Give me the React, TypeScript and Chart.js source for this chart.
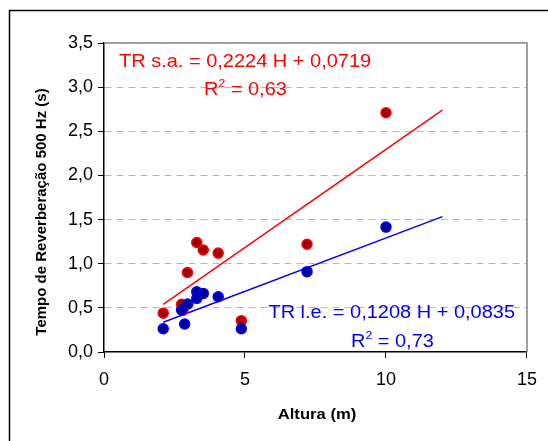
import React, { useEffect, useRef } from "react";
import { Chart, registerables } from "chart.js";

Chart.register(...registerables);

// Red series: TR s.a.
const redX = [2.1, 2.75, 2.8, 2.96, 3.29, 3.52, 4.05, 4.87, 7.2, 10.0];
const redY = [0.44, 0.54, 0.47, 0.9, 1.24, 1.155, 1.12, 0.355, 1.22, 2.71];
// Blue series: TR l.e.
const blueX = [2.1, 2.86, 2.75, 2.97, 3.29, 3.29, 3.52, 4.05, 4.87, 7.2, 10.0];
const blueY = [0.264, 0.317, 0.476, 0.544, 0.683, 0.608, 0.664, 0.626, 0.264, 0.91, 1.415];

// Trend lines
const redSlope = 0.2224;
const redIntercept = 0.0719;
const blueSlope = 0.1208;
const blueIntercept = 0.0835;
const trendX = [2.1, 12];

const redEq = "TR s.a. = 0,2224 H + 0,0719";
const redR2 = "0,63";
const blueEq = "TR l.e. = 0,1208 H + 0,0835";
const blueR2 = "0,73";
const xTitle = "Altura (m)";
const yTitle = "Tempo de Reverberação 500 Hz (s)";

const FONT = "'Liberation Sans', Arial, sans-serif";
const SX = 1.11;

const decorPlugin = {
  id: "decor",
  beforeDraw(chart: any) {
    const ctx = chart.ctx;
    ctx.save();
    ctx.fillStyle = "#ffffff";
    ctx.fillRect(0, 0, chart.width, chart.height);
    ctx.strokeStyle = "#000000";
    ctx.lineWidth = 1.5;
    ctx.beginPath();
    ctx.moveTo(9.5, chart.height + 5);
    ctx.lineTo(9.5, 10.5);
    ctx.lineTo(chart.width + 5, 10.5);
    ctx.stroke();
    ctx.restore();
  },
  afterDraw(chart: any) {
    const ctx = chart.ctx;
    const a = chart.chartArea;
    ctx.save();
    ctx.strokeStyle = "#808080";
    ctx.lineWidth = 1.5;
    ctx.beginPath();
    ctx.moveTo(a.left, a.top);
    ctx.lineTo(a.right, a.top);
    ctx.lineTo(a.right, a.bottom);
    ctx.stroke();

    const stretched = (text: string, x: number, y: number, font: string, align: CanvasTextAlign) => {
      ctx.save();
      ctx.translate(x, y);
      ctx.scale(SX, 1);
      ctx.font = font;
      ctx.textAlign = align;
      ctx.fillText(text, 0, 0);
      ctx.restore();
    };

    // axis titles
    ctx.fillStyle = "#000000";
    ctx.textBaseline = "middle";
    stretched(xTitle, 317, 415, `bold 15px ${FONT}`, "center");
    ctx.save();
    ctx.translate(42, 212);
    ctx.rotate(-Math.PI / 2);
    ctx.font = `bold 15px ${FONT}`;
    ctx.textAlign = "center";
    ctx.fillText(yTitle, 0, 0);
    ctx.restore();

    // equations
    ctx.textBaseline = "alphabetic";
    const drawR2 = (x: number, y: number, val: string) => {
      ctx.save();
      ctx.translate(x, y);
      ctx.scale(SX, 1);
      ctx.textAlign = "left";
      ctx.font = `18px ${FONT}`;
      ctx.fillText("R", 0, 0);
      const w = ctx.measureText("R").width;
      ctx.font = `11px ${FONT}`;
      ctx.fillText("2", w, -8);
      const w2 = ctx.measureText("2").width;
      ctx.font = `18px ${FONT}`;
      ctx.fillText(" = " + val, w + w2, 0);
      ctx.restore();
    };
    ctx.fillStyle = "#ff0000";
    stretched(redEq, 119, 67, `18px ${FONT}`, "left");
    drawR2(204, 95, redR2);
    ctx.fillStyle = "#0000ff";
    stretched(blueEq, 515, 318, `18px ${FONT}`, "right");
    drawR2(351, 347, blueR2);
    ctx.restore();
  },
};

export default function App() {
  const ref = useRef<HTMLCanvasElement>(null);
  useEffect(() => {
    if (!ref.current) return;
    const redPts = redX.map((x, i) => ({ x, y: redY[i] }));
    const bluePts = blueX.map((x, i) => ({ x, y: blueY[i] }));
    const redLine = trendX.map((x) => ({ x, y: redSlope * x + redIntercept }));
    const blueLine = trendX.map((x) => ({ x, y: blueSlope * x + blueIntercept }));
    const chart = new Chart(ref.current, {
      type: "scatter",
      data: {
        datasets: [
          {
            type: "line",
            data: redLine,
            borderColor: "#ff0000",
            borderWidth: 1.5,
            pointRadius: 0,
            fill: false,
            order: 3,
          },
          {
            type: "line",
            data: blueLine,
            borderColor: "#0000ff",
            borderWidth: 1.5,
            pointRadius: 0,
            fill: false,
            order: 4,
          },
          {
            data: redPts,
            backgroundColor: "#a00000",
            borderColor: "#ff0000",
            borderWidth: 1.5,
            pointRadius: 5,
            order: 2,
          },
          {
            data: bluePts,
            backgroundColor: "#000099",
            borderColor: "#0000ff",
            borderWidth: 1.5,
            pointRadius: 5,
            order: 1,
          },
        ],
      } as any,
      options: {
        animation: false,
        responsive: false,
        maintainAspectRatio: false,
        layout: { padding: { left: 0, top: 43, right: 17, bottom: 0 } },
        plugins: {
          legend: { display: false },
          tooltip: { enabled: false },
        },
        scales: {
          x: {
            type: "linear",
            min: 0,
            max: 15,
            ticks: {
              stepSize: 5,
              color: "#000000",
              font: { family: FONT, size: 18 },
              padding: 11,
              maxRotation: 0,
            },
            grid: {
              display: true,
              drawOnChartArea: false,
              drawTicks: true,
              tickLength: 6,
              tickColor: "#000000",
              tickWidth: 1,
            },
            border: { display: true, color: "#000000", width: 1.5 },
            afterFit: (s: any) => {
              s.height = 89;
            },
          },
          y: {
            type: "linear",
            min: 0,
            max: 3.5,
            ticks: {
              stepSize: 0.5,
              color: "#000000",
              font: { family: FONT, size: 18 },
              padding: 5,
              callback: (v: any) => Number(v).toFixed(1).replace(".", ","),
            },
            grid: {
              display: true,
              color: (c: any) =>
                c.tick && (c.tick.value === 0 || c.tick.value === 3.5) ? "rgba(0,0,0,0)" : "#b8b8b8",
              lineWidth: 1,
              drawTicks: true,
              tickLength: 6,
              tickColor: "#000000",
              tickWidth: 1,
              tickBorderDash: [],
            } as any,
            border: { display: true, color: "#000000", width: 1.5, dash: [7, 5] } as any,
            afterFit: (s: any) => {
              s.width = 104;
            },
          },
        },
      } as any,
      plugins: [decorPlugin],
    });
    return () => chart.destroy();
  }, []);
  return (
    <div style={{ position: "absolute", left: 0, top: 0, width: 548, height: 441 }}>
      <canvas ref={ref} width={548} height={441} style={{ display: "block" }} />
    </div>
  );
}
